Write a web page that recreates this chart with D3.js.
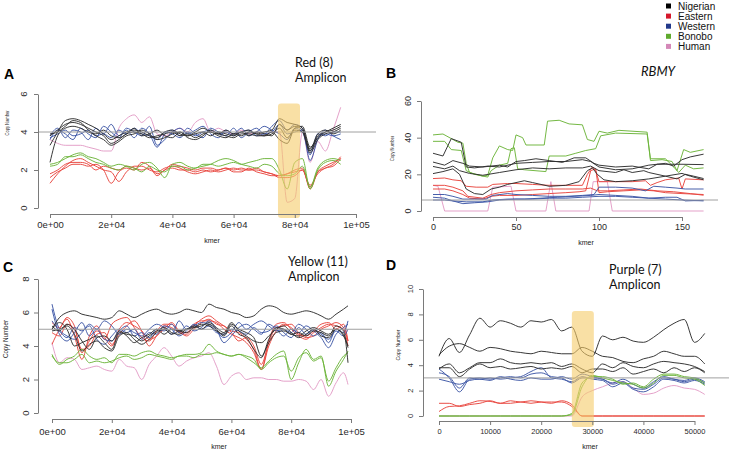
<!DOCTYPE html>
<html>
<head>
<meta charset="utf-8">
<script src="https://cdnjs.cloudflare.com/ajax/libs/d3/7.8.5/d3.min.js"></script>
<style>
  body { margin: 0; background: #fff; }
  svg { display: block; }
</style>
</head>
<body>
<svg id="chart" width="731" height="451"></svg>
<script>
// ---- legend ----
const GROUPS = ["Nigerian", "Eastern", "Western", "Bonobo", "Human"];
const LEGEND_COLORS = ["#000000", "#d5182b", "#22398a", "#5faa2e", "#d488b8"];
const LINE_COLORS = {
  Nigerian: "#2e2e2e",
  Eastern: "#e8463e",
  Western: "#3d56a5",
  Bonobo: "#6db43a",
  Human: "#e39cc6"
};

// ---- panel A: Red (8) amplicon ----
const A_X = [0,2500,5000,7500,10000,12500,15000,17500,20000,22500,25000,27500,30000,32500,35000,37500,40000,42500,45000,47500,50000,52500,55000,57500,60000,62500,65000,67500,70000,72500,75000,77500,80000,82500,85000,87500,90000,92500,95000];
const A_NIGERIAN = [
  [3.3,4.0,4.6,4.7,4.6,4.4,4.2,3.9,3.6,3.8,4.0,4.1,4.0,3.8,3.7,4.0,4.1,3.9,3.8,4.0,4.2,4.0,3.9,4.1,3.9,4.0,4.1,3.9,4.0,4.1,4.7,4.5,4.4,4.2,3.0,3.8,4.0,4.2,4.4],
  [3.8,4.1,4.4,4.5,4.4,4.2,4.0,3.8,3.4,3.6,3.9,4.0,3.9,3.7,3.8,3.9,4.0,3.8,3.9,3.7,3.9,4.0,3.8,3.7,3.9,3.8,4.0,3.9,3.8,4.0,3.6,3.4,4.2,4.3,3.2,3.7,4.0,4.1,4.3],
  [2.4,3.8,4.2,4.3,4.2,4.0,3.9,4.1,3.8,3.7,3.9,4.2,3.8,3.9,4.1,3.8,3.7,4.0,3.7,3.6,3.8,4.1,3.9,3.8,3.7,3.9,3.9,3.8,3.8,3.9,4.2,3.7,4.1,4.0,2.9,3.6,3.9,4.0,4.2],
  [3.9,4.0,4.3,4.6,4.5,4.1,3.8,3.6,3.3,3.5,3.8,3.9,4.1,3.9,3.6,3.7,3.9,4.0,3.8,3.9,4.0,3.8,4.0,3.9,3.8,4.0,3.8,4.0,3.9,3.8,4.4,4.1,4.3,4.1,3.1,3.9,4.1,3.9,4.1]
];
const A_WESTERN = [
  [3.8,4.2,3.7,4.1,4.0,3.6,4.2,3.9,4.4,3.8,4.1,3.7,4.2,3.9,3.2,3.9,4.1,3.8,4.2,3.9,3.7,4.2,4.0,3.8,4.2,3.7,4.0,4.2,3.9,4.3,4.6,4.1,4.4,4.2,2.5,3.6,4.1,3.8,3.6],
  [3.6,4.1,3.9,3.6,4.2,3.9,3.7,4.3,4.0,3.7,4.2,4.0,3.8,4.3,3.3,3.6,4.0,4.2,3.9,4.1,4.3,3.9,3.7,4.1,3.9,4.2,3.8,4.0,4.3,4.1,3.9,3.6,4.2,4.0,2.8,3.9,3.8,4.0,4.0],
  [3.7,3.9,4.1,3.8,3.9,4.1,3.8,3.9,3.7,4.1,3.9,4.2,3.9,3.8,3.6,4.0,3.9,3.7,4.0,3.8,4.0,4.1,3.9,4.0,3.8,4.0,4.1,3.8,3.9,4.0,4.4,3.9,4.0,4.1,3.0,3.7,3.9,3.8,3.9]
];
const A_HUMAN = [
  [3.6,3.4,3.3,3.3,3.3,3.2,3.1,3.0,3.0,4.2,4.7,4.9,4.5,4.8,3.9,3.8,4.0,4.2,4.0,4.5,4.7,4.0,4.2,4.0,3.9,4.1,3.9,4.0,3.8,4.0,4.0,0.3,0.5,4.0,2.4,3.5,3.0,4.1,5.3]
];
const A_BONOBO = [
  [2.3,2.4,2.6,2.8,2.9,2.7,2.6,2.4,2.2,2.3,2.2,2.0,2.3,2.4,2.1,1.6,2.3,2.4,2.2,2.1,2.3,2.3,2.2,2.3,2.4,2.3,2.4,2.5,2.6,2.6,2.0,1.0,2.4,2.6,1.0,2.0,2.4,2.5,2.3],
  [2.2,2.3,2.7,2.7,2.8,2.6,2.4,2.3,2.1,2.0,2.2,2.1,1.9,2.2,2.0,1.9,2.2,2.2,2.0,2.1,2.2,2.3,2.5,2.6,2.5,2.3,2.2,2.1,2.3,2.2,1.8,1.7,1.8,2.2,1.1,2.1,2.5,2.6,2.5]
];
const A_EASTERN = [
  [1.8,2.0,2.3,2.4,2.4,2.3,2.0,2.2,2.1,2.0,2.2,2.1,2.0,2.1,1.8,2.0,2.3,2.2,2.1,2.0,2.1,2.1,2.0,2.1,2.0,2.1,2.0,2.0,1.9,1.8,1.7,1.8,1.9,2.0,1.1,1.9,2.1,2.3,2.7],
  [1.3,1.8,2.2,2.5,2.6,2.4,2.2,2.0,1.9,1.4,1.9,2.2,2.2,2.0,1.9,2.1,2.2,2.1,1.9,1.8,1.9,2.0,1.9,2.0,2.1,2.0,2.0,2.1,1.9,1.8,1.6,1.6,1.7,2.0,1.2,1.8,2.1,2.2,2.6],
  [1.6,1.9,2.1,2.3,2.3,2.2,2.3,2.0,1.3,1.9,2.1,2.0,2.4,2.2,1.7,2.0,2.1,2.0,2.0,1.9,2.0,1.9,2.0,2.1,1.9,1.9,2.1,1.9,1.8,1.7,1.7,1.8,2.0,2.1,1.0,1.9,2.2,2.4,2.6]
];
const A_X_TICKS = [0, 20000, 40000, 60000, 80000, 100000];
const A_X_TICK_LABELS = ["0e+00", "2e+04", "4e+04", "6e+04", "8e+04", "1e+05"];
const A_Y_TICKS = [0, 2, 4, 6];

// ---- panel B: RBMY (points are [kmer, copy number]) ----
const B_BONOBO = [
  [[0,41.5],[6,42],[11,39.5],[15,37.5],[18,37],[20,26],[22,21],[30,19],[33,19.5],[36,29],[40,35.5],[45,33.5],[48,33],[50,41.5],[54,40],[56,36],[67,36],[69,49],[76,49.5],[82,47.5],[90,47],[93,39],[97,38],[100,43.5],[105,42.5],[112,44],[129,43],[131,27.5],[138,28],[144,27],[147,22],[151,33.5],[155,32],[163,33.5]],
  [[0,38],[7,38],[11,33.5],[17,33],[20,22],[25,20],[33,18.5],[35,22],[40,25],[45,26],[47,34],[49,34.5],[51,23],[55,22.5],[68,21.5],[70,30],[80,30],[86,31.5],[92,33],[98,34],[101,41],[110,42.5],[129,42],[131,28.5],[140,28.5],[145,24],[148,21],[152,25],[157,23],[163,23.5]]
];
const B_NIGERIAN = [
  [[0,31.5],[6,30],[11,39.5],[17,37.5],[20,24],[25,23.5],[33,24.5],[40,24],[50,26],[60,26.5],[70,27],[80,27],[90,28],[95,27],[100,24],[110,22.5],[120,23],[130,25],[140,26],[145,24.5],[150,28],[155,29.5],[163,31]],
  [[0,26.7],[7,25],[12,27.5],[18,26],[22,24.5],[30,24],[40,25],[45,24],[50,27],[55,27.5],[62,28.5],[70,27.5],[78,26.5],[85,29],[92,29],[97,26],[100,25],[110,24],[120,24.5],[130,23],[135,25.5],[150,25.5],[163,25.3]],
  [[0,24.3],[7,23],[12,24.5],[16,22],[22,20.5],[30,19.5],[40,21],[50,22.5],[60,23.5],[70,23],[80,23.5],[90,23.5],[95,24.5],[100,22],[110,21],[115,22.5],[120,21],[127,22],[130,21],[140,19],[147,17.5],[152,20],[157,19],[163,17.7]],
  [[0,20.4],[6,21.5],[12,23],[16,20],[20,12],[25,9.5],[30,9],[35,12],[40,13],[45,14.5],[55,16.5],[60,15.5],[70,13.5],[80,14],[88,16],[93,22],[96,23.5],[99,20],[103,17],[110,16],[120,16.5],[130,17.5],[140,19],[150,20.5],[155,19],[163,17]]
];
const B_EASTERN = [
  [[0,17.7],[7,18],[12,17],[17,16.5],[20,13.5],[26,13],[33,13],[36,14.5],[45,15],[50,15],[60,14.5],[70,14],[80,14],[90,14],[93,20],[96,24],[98,22],[100,16],[110,16],[120,16],[128,16.5],[131,14],[135,15.5],[140,17],[148,18],[150,12],[152,17.5],[163,17]],
  [[0,14],[7,14],[12,13],[18,11],[21,8],[30,7],[35,9],[40,10],[50,11],[60,11.5],[70,12],[80,12],[90,12],[95,12.5],[99,11],[105,11],[115,11.5],[125,12],[135,11],[145,10.5],[155,9.5],[163,8.6]],
  [[0,12],[7,12],[12,11],[18,9],[22,7],[30,6.5],[35,8],[40,8.5],[50,8.5],[60,9],[70,9.5],[80,10],[88,10.5],[92,11],[95,22],[98,23],[100,10],[105,10.5],[115,11],[125,11.5],[133,11],[140,10],[150,9.5],[163,9]]
];
const B_WESTERN = [
  [[0,9],[7,9],[12,8],[18,6.5],[25,6.5],[32,6.5],[36,8.5],[45,9.5],[50,9],[60,8.5],[70,8],[80,8],[90,8.5],[97,9],[100,13],[110,13],[120,12.5],[128,11],[133,13.5],[140,13],[147,12.5],[152,12],[163,12]],
  [[0,7.5],[7,7],[12,5.5],[18,4],[25,4.5],[33,5],[40,6],[50,6.5],[60,6.5],[70,7],[80,7],[90,7.5],[100,8],[110,8],[120,7.5],[130,7],[140,7.5],[147,7.5],[152,5.5],[163,5.8]],
  [[0,6],[7,6],[12,5.5],[20,5],[30,5],[36,6],[45,6.5],[55,6.5],[65,7],[75,7.5],[85,8],[95,8.5],[100,9],[110,8.5],[120,8],[130,7],[140,6.5],[150,6],[163,5.5]]
];
const B_HUMAN = [
  [[0,14],[3,13.5],[7,0],[33,0],[36,13],[47,13.5],[50,0],[68,0],[71,16],[74,0],[94,0],[96.5,16],[105,16],[108,0],[163,0]]
];
const B_X_TICKS = [0, 50, 100, 150];
const B_Y_TICKS = [0, 20, 40, 60];

// ---- panel C: Yellow (11) amplicon ----
const C_X = [0,2500,5000,7500,10000,12500,15000,17500,20000,22500,25000,27500,30000,32500,35000,37500,40000,42500,45000,47500,50000,52500,55000,57500,60000,62500,65000,67500,70000,72500,75000,77500,80000,82500,85000,87500,90000,92500,95000,97500,99000];
const C_NIGERIAN = [
  [5.0,5.7,6.0,6.1,5.9,5.8,5.7,5.6,5.7,6.1,5.9,5.7,5.9,6.1,6.2,6.0,5.9,6.0,6.2,6.1,6.0,6.5,6.3,6.2,6.0,5.9,5.7,5.8,6.2,6.4,6.3,6.0,5.9,6.0,6.1,6.0,5.8,5.6,5.9,6.2,6.4],
  [5.0,5.4,5.0,4.0,4.2,4.4,4.6,4.2,3.8,4.8,4.7,4.6,4.3,4.6,4.9,5.1,4.8,4.7,5.0,5.1,5.2,5.4,5.1,4.8,5.4,4.9,4.6,4.3,4.2,4.6,5.0,5.2,4.8,4.5,4.7,5.0,4.6,4.5,5.0,4.7,3.9],
  [5.2,4.9,5.3,5.0,4.3,3.8,4.5,4.6,4.3,4.9,4.6,4.2,4.5,4.7,5.0,4.7,5.0,4.9,4.8,5.1,5.3,5.2,4.9,4.7,5.3,5.0,4.8,4.5,3.4,4.2,4.8,4.9,4.7,4.6,4.9,5.1,4.9,4.7,5.0,4.6,4.0],
  [4.9,5.0,5.2,4.7,3.7,4.1,4.3,3.9,3.7,4.6,4.8,4.4,4.1,4.4,4.8,5.0,4.7,4.9,5.0,5.2,5.0,5.3,5.0,4.6,5.2,4.7,4.5,3.8,3.3,4.4,5.1,5.0,4.7,4.8,4.6,4.9,4.8,4.6,5.2,4.9,3.0]
];
const C_EASTERN = [
  [4.1,5.0,5.6,4.6,3.2,4.6,5.2,4.4,5.3,5.6,5.7,5.1,4.5,4.3,4.9,5.3,5.3,4.9,4.8,5.3,5.5,5.5,5.4,5.0,4.7,4.5,4.2,3.6,2.6,4.3,5.3,5.4,5.0,4.6,4.4,4.8,5.1,5.3,5.2,5.0,4.0],
  [5.4,5.1,5.7,5.2,3.6,4.3,4.9,4.5,4.0,5.0,5.4,5.2,4.9,4.4,4.6,5.2,5.1,4.8,4.7,5.2,5.6,5.8,5.5,5.2,4.9,4.8,4.4,3.8,2.6,4.0,4.9,5.3,5.1,4.7,4.6,4.9,5.3,5.4,5.0,5.3,4.3],
  [4.8,4.6,5.3,5.0,3.8,4.0,4.7,4.8,4.1,4.7,5.2,5.5,4.9,4.0,4.6,5.0,5.4,4.9,4.6,5.0,5.4,5.6,5.3,5.2,4.8,4.3,4.5,4.0,2.9,4.2,5.1,5.2,5.3,4.8,4.5,4.6,5.0,5.2,5.4,5.1,4.3]
];
const C_WESTERN = [
  [6.5,5.0,4.6,4.4,4.8,5.3,5.0,5.5,5.2,4.7,5.0,4.8,4.6,5.0,5.3,5.1,4.7,5.5,5.0,5.2,5.4,5.3,4.9,4.5,4.8,5.4,5.0,5.3,5.5,5.2,4.9,5.0,4.8,5.3,5.0,4.6,4.8,4.2,5.0,4.8,5.5],
  [6.2,4.7,4.3,4.8,5.4,4.6,5.0,4.4,4.3,4.9,5.2,4.6,4.8,4.5,5.0,4.9,5.3,4.8,5.2,4.9,5.1,5.5,5.0,4.2,4.6,5.1,5.3,5.0,4.7,5.3,5.0,4.6,5.0,4.8,5.2,4.9,4.5,3.9,4.7,5.1,5.3],
  [5.5,4.9,4.5,5.1,4.9,5.2,4.4,4.1,4.6,5.0,4.8,5.0,4.4,4.8,4.7,5.2,5.0,4.6,4.9,5.3,5.0,5.2,4.8,4.7,5.0,4.9,4.7,5.1,4.8,4.9,5.2,4.8,4.5,5.1,4.7,5.0,4.7,4.4,4.9,4.6,5.0]
];
const C_BONOBO = [
  [3.5,2.9,3.2,3.4,3.8,3.4,3.2,3.3,3.0,3.5,3.5,3.4,3.6,3.7,3.5,3.4,3.3,3.4,3.5,3.5,3.6,4.1,3.7,3.5,3.4,3.5,3.3,3.0,2.7,3.1,3.5,3.7,2.0,3.0,3.8,3.2,3.4,1.6,2.5,3.2,3.7],
  [3.4,3.0,3.0,3.2,3.5,3.0,3.1,3.0,3.1,3.3,3.4,3.2,3.3,3.5,3.4,3.3,3.2,3.4,3.4,3.3,3.5,3.5,3.6,3.5,3.4,3.5,3.4,3.2,2.6,3.0,3.3,3.4,2.5,3.3,3.6,3.1,3.3,1.9,2.7,3.4,3.6]
];
const C_HUMAN = [
  [4.2,3.0,3.3,3.2,2.6,2.7,2.8,2.6,2.5,3.2,2.8,2.7,2.0,2.9,3.4,3.9,3.4,2.8,3.1,3.3,3.4,3.6,2.8,1.7,2.2,2.4,2.0,2.1,2.1,2.0,2.0,1.9,1.9,2.0,1.9,1.4,2.0,1.0,1.8,2.4,1.7]
];
const C_Y_TICKS = [0, 2, 4, 6, 8];

// ---- panel D: Purple (7) amplicon ----
const D_X = [0,2000,4000,6000,8000,10000,12000,14000,16000,18000,20000,22000,24000,26000,28000,30000,32000,34000,36000,38000,40000,42000,44000,46000,48000,50000,52000];
const D_NIGERIAN = [
  [4.7,6.1,5.0,6.4,7.7,7.0,7.5,7.3,7.0,7.5,7.4,7.6,6.7,7.0,5.1,4.7,6.3,6.0,6.2,5.9,5.8,6.2,6.8,7.3,7.6,5.8,6.5],
  [4.8,5.5,5.7,5.4,5.1,5.4,5.3,5.1,5.0,4.9,5.1,5.0,4.9,4.9,5.4,5.1,4.7,4.6,4.3,4.2,4.5,4.7,5.1,4.9,4.7,4.7,4.1],
  [3.7,4.1,3.4,3.8,4.2,4.2,4.5,4.2,4.1,4.2,4.1,4.2,3.9,4.1,3.7,3.4,4.1,3.8,4.2,3.9,3.8,4.1,4.3,4.2,4.1,3.9,3.5],
  [3.8,3.8,3.1,3.7,4.1,3.8,3.9,3.7,3.8,3.9,3.7,3.8,3.7,3.9,3.4,3.7,3.7,3.5,3.8,3.3,3.5,3.7,3.4,3.8,3.5,3.8,3.4]
];
const D_WESTERN = [
  [3.7,3.0,1.9,2.9,3.0,2.9,3.0,3.1,3.0,3.3,3.4,3.1,3.0,2.6,3.0,3.0,2.9,2.5,2.7,2.2,2.1,2.5,3.0,2.9,2.7,2.9,2.6],
  [3.4,3.1,2.2,3.0,2.9,3.0,2.9,3.0,3.1,3.5,3.8,3.0,2.9,2.7,3.1,2.9,2.8,2.3,2.6,2.1,1.9,2.3,2.9,2.8,2.6,2.8,2.5],
  [2.9,2.7,2.5,2.8,2.9,2.8,3.1,2.9,2.8,3.0,2.9,2.9,3.1,2.9,3.3,3.1,2.9,2.6,2.9,2.5,2.2,2.7,3.1,2.9,2.8,3.0,2.7]
];
const D_BONOBO = [
  [0,0,0,0,0,0,0,0,0,0,0,0,0,0.2,2.6,3.1,3.1,2.9,2.5,2.6,2.3,2.9,3.3,3.3,3.1,3.0,2.6],
  [0,0,0,0,0,0,0,0,0,0,0,0,0,0.1,2.3,3.2,3.0,2.8,2.6,2.5,2.2,2.6,3.2,3.2,3.0,2.9,2.4]
];
const D_HUMAN = [
  [0,0,0,0,0,0,0,0,0,0,0,0,0,0,1.5,2.0,2.3,2.6,2.7,2.2,1.7,1.8,2.2,2.4,2.2,2.1,1.7]
];
const D_EASTERN = [
  [1.0,1.0,0.75,0.9,1.0,1.2,1.0,1.0,1.1,1.0,1.1,1.1,1.1,0.75,0,0,0,0,0,0,0,0,0,0,0,0,0],
  [0.35,0.75,0.8,1.0,1.2,1.15,1.0,1.2,1.1,1.2,1.1,1.0,1.2,0.9,0,0,0,0,0,0,0,0,0,0,0,0,0]
];
const D_X_TICKS = [0, 10000, 20000, 30000, 40000, 50000];
const D_Y_TICKS = [0, 2, 4, 6, 8, 10];

const TICK_FONT = "'Liberation Sans', Arial, Helvetica, sans-serif";
const TITLE_FONT = "Lato, 'Open Sans', sans-serif";
const DRAW_ORDER = ["Human", "Eastern", "Western", "Bonobo", "Nigerian"];

const svg = d3.select("#chart");

// zip a shared x grid with each y series, in drawing order
function gridSeries(xs, byGroup) {
  const out = [];
  for (const group of DRAW_ORDER) {
    for (const ys of byGroup[group] || []) {
      out.push({ group, points: xs.map((x, i) => [x, ys[i]]) });
    }
  }
  return out;
}

function pairSeries(byGroup) {
  const out = [];
  for (const group of DRAW_ORDER) {
    for (const pts of byGroup[group] || []) out.push({ group, points: pts });
  }
  return out;
}

const panels = [
  {
    letter: "A", letterPos: [4, 79],
    title: ["Red (8)", "Amplicon"], titlePos: [295, 67], titleItalic: false,
    xDomain: [0, 100000], xRange: [50, 356], yDomain: [0, 6], yRange: [208, 94],
    xAxisY: 214, yAxisX: 38, xTicks: A_X_TICKS, xTickLabels: A_X_TICK_LABELS, yTicks: A_Y_TICKS,
    tickFont: 9.5, xLabelOff: 10.5, yLabelOff: 14.5,
    ref: 4, refX: [38, 376], curve: d3.curveMonotoneX,
    series: gridSeries(A_X, { Nigerian: A_NIGERIAN, Western: A_WESTERN, Human: A_HUMAN, Bonobo: A_BONOBO, Eastern: A_EASTERN }),
    highlight: { x: [74500, 81700], y: [5.5, -0.53] },
    ylab: { x: 7, y: 123, len: 25, size: 5 },
    kmer: { x: 212, y: 243, size: 7 }
  },
  {
    letter: "B", letterPos: [386, 78],
    title: ["RBMY"], titlePos: [641, 76], titleItalic: true,
    xDomain: [0, 150], xRange: [433, 682], yDomain: [0, 60], yRange: [211, 101],
    xAxisY: 217, yAxisX: 421, xTicks: B_X_TICKS, xTickLabels: B_X_TICKS.map(String), yTicks: B_Y_TICKS,
    tickFont: 9, xLabelOff: 9.4, yLabelOff: 13,
    ref: 6, refX: [421, 718], curve: d3.curveLinear,
    series: pairSeries({ Nigerian: B_NIGERIAN, Western: B_WESTERN, Human: B_HUMAN, Bonobo: B_BONOBO, Eastern: B_EASTERN }),
    highlight: null,
    ylab: { x: 392, y: 148.5, len: 25, size: 5 },
    kmer: { x: 586, y: 245, size: 7 }
  },
  {
    letter: "C", letterPos: [3, 272],
    title: ["Yellow (11)", "Amplicon"], titlePos: [288, 266], titleItalic: false,
    xDomain: [0, 100000], xRange: [52, 351], yDomain: [0, 8], yRange: [413, 279],
    xAxisY: 419, yAxisX: 38, xTicks: A_X_TICKS, xTickLabels: A_X_TICK_LABELS, yTicks: C_Y_TICKS,
    tickFont: 9.5, xLabelOff: 12.4, yLabelOff: 12.5,
    ref: 5, refX: [38, 372], curve: d3.curveMonotoneX,
    series: gridSeries(C_X, { Nigerian: C_NIGERIAN, Western: C_WESTERN, Human: C_HUMAN, Bonobo: C_BONOBO, Eastern: C_EASTERN }),
    highlight: null,
    ylab: { x: 6, y: 339, len: 38, size: 7 },
    kmer: { x: 219, y: 449, size: 7 }
  },
  {
    letter: "D", letterPos: [386, 270],
    title: ["Purple (7)", "Amplicon"], titlePos: [609, 274], titleItalic: false,
    xDomain: [0, 50000], xRange: [439, 694.5], yDomain: [0, 10], yRange: [416, 289],
    xAxisY: 421, yAxisX: 423, xTicks: D_X_TICKS, xTickLabels: D_X_TICKS.map(String), yTicks: D_Y_TICKS,
    tickFont: 7.5, xLabelOff: 10.7, yLabelOff: 12.5,
    ref: 3, refX: [423, 729], curve: d3.curveMonotoneX,
    series: gridSeries(D_X, { Nigerian: D_NIGERIAN, Western: D_WESTERN, Human: D_HUMAN, Bonobo: D_BONOBO, Eastern: D_EASTERN }),
    highlight: { x: [26000, 30300], y: [8.27, -0.87] },
    ylab: { x: 398, y: 345, len: 31, size: 6 },
    kmer: { x: 590, y: 449, size: 7 }
  }
];

function drawPanel(p) {
  const g = svg.append("g").attr("class", "panel-" + p.letter);
  const x = d3.scaleLinear().domain(p.xDomain).range(p.xRange);
  const y = d3.scaleLinear().domain(p.yDomain).range(p.yRange);

  // the copy-number traces
  const line = d3.line().x((d) => x(d[0])).y((d) => y(d[1])).curve(p.curve);
  g.selectAll(".trace")
    .data(p.series)
    .join("path")
    .attr("class", "trace")
    .attr("d", (d) => line(d.points))
    .attr("fill", "none")
    .attr("stroke", (d) => LINE_COLORS[d.group])
    .attr("stroke-width", 0.95)
    .attr("stroke-linejoin", "round");

  // expected copy number
  g.append("line")
    .attr("x1", p.refX[0]).attr("x2", p.refX[1])
    .attr("y1", y(p.ref)).attr("y2", y(p.ref))
    .attr("stroke", "#a0a0a0")
    .attr("stroke-width", 1);

  // highlighted region
  if (p.highlight) {
    g.append("rect")
      .attr("x", x(p.highlight.x[0]))
      .attr("y", y(p.highlight.y[0]))
      .attr("width", x(p.highlight.x[1]) - x(p.highlight.x[0]))
      .attr("height", y(p.highlight.y[1]) - y(p.highlight.y[0]))
      .attr("rx", 3)
      .attr("fill", "rgb(245,203,105)")
      .attr("opacity", 0.6);
  }

  // axes (tick marks + lines from d3, labels placed by hand below)
  const xAxis = d3.axisBottom(x)
    .tickValues(p.xTicks)
    .tickFormat((d, i) => p.xTickLabels[i])
    .tickSize(4)
    .tickSizeOuter(0);
  const xg = g.append("g")
    .attr("transform", `translate(0,${p.xAxisY})`)
    .call(xAxis);
  xg.selectAll("text")
    .attr("y", p.xLabelOff)
    .attr("dy", "0.35em");

  const yAxis = d3.axisLeft(y)
    .tickValues(p.yTicks)
    .tickFormat(d3.format("d"))
    .tickSize(4)
    .tickSizeOuter(0);
  const yg = g.append("g")
    .attr("transform", `translate(${p.yAxisX},0)`)
    .call(yAxis);
  yg.selectAll(".tick text").remove();

  for (const ax of [xg, yg]) {
    ax.attr("font-family", TICK_FONT).attr("font-size", p.tickFont);
    ax.select(".domain").attr("stroke", "#7a7a7a");
    ax.selectAll(".tick line").attr("stroke", "#7a7a7a");
    ax.selectAll("text").attr("fill", "#2a2a2a");
  }

  // y tick labels run along the axis, as in base R
  g.selectAll(".ytick-label")
    .data(p.yTicks)
    .join("text")
    .attr("class", "ytick-label")
    .attr("transform", (d) => `translate(${p.yAxisX - p.yLabelOff},${y(d)}) rotate(-90)`)
    .attr("dy", "0.35em")
    .attr("text-anchor", "middle")
    .attr("font-family", TICK_FONT)
    .attr("font-size", p.tickFont)
    .attr("fill", "#2a2a2a")
    .text(d3.format("d"));

  // axis titles
  g.append("text")
    .attr("transform", `translate(${p.ylab.x},${p.ylab.y}) rotate(-90)`)
    .attr("dy", "0.35em")
    .attr("text-anchor", "middle")
    .attr("font-family", TICK_FONT)
    .attr("font-size", p.ylab.size)
    .attr("textLength", p.ylab.len)
    .attr("lengthAdjust", "spacingAndGlyphs")
    .attr("fill", "#222")
    .text("Copy Number");

  g.append("text")
    .attr("x", p.kmer.x)
    .attr("y", p.kmer.y)
    .attr("text-anchor", "middle")
    .attr("font-family", TICK_FONT)
    .attr("font-size", p.kmer.size)
    .attr("fill", "#222")
    .text("kmer");

  // panel letter
  g.append("text")
    .attr("x", p.letterPos[0])
    .attr("y", p.letterPos[1])
    .attr("font-family", TICK_FONT)
    .attr("font-weight", "bold")
    .attr("font-size", 14)
    .attr("fill", "#000")
    .text(p.letter);

  // panel title
  const t = g.append("text")
    .attr("font-family", TITLE_FONT)
    .attr("font-size", p.titleItalic ? 13 : 12.5)
    .attr("font-style", p.titleItalic ? "italic" : "normal")
    .attr("fill", "#111");
  p.title.forEach((s, i) => {
    t.append("tspan")
      .attr("x", p.titlePos[0])
      .attr("y", p.titlePos[1] + i * 15)
      .text(s);
  });
}

panels.forEach(drawPanel);

// legend
const legend = svg.append("g").attr("class", "legend");
const rows = legend.selectAll("g")
  .data(GROUPS)
  .join("g")
  .attr("transform", (d, i) => `translate(666,${6 + i * 10.1})`);
rows.append("rect")
  .attr("x", 0).attr("y", -2.5)
  .attr("width", 5).attr("height", 5)
  .attr("fill", (d, i) => LEGEND_COLORS[i]);
rows.append("text")
  .attr("x", 12)
  .attr("dy", "0.35em")
  .attr("font-family", TICK_FONT)
  .attr("font-size", 10)
  .attr("fill", "#111")
  .text((d) => d);
</script>
</body>
</html>
